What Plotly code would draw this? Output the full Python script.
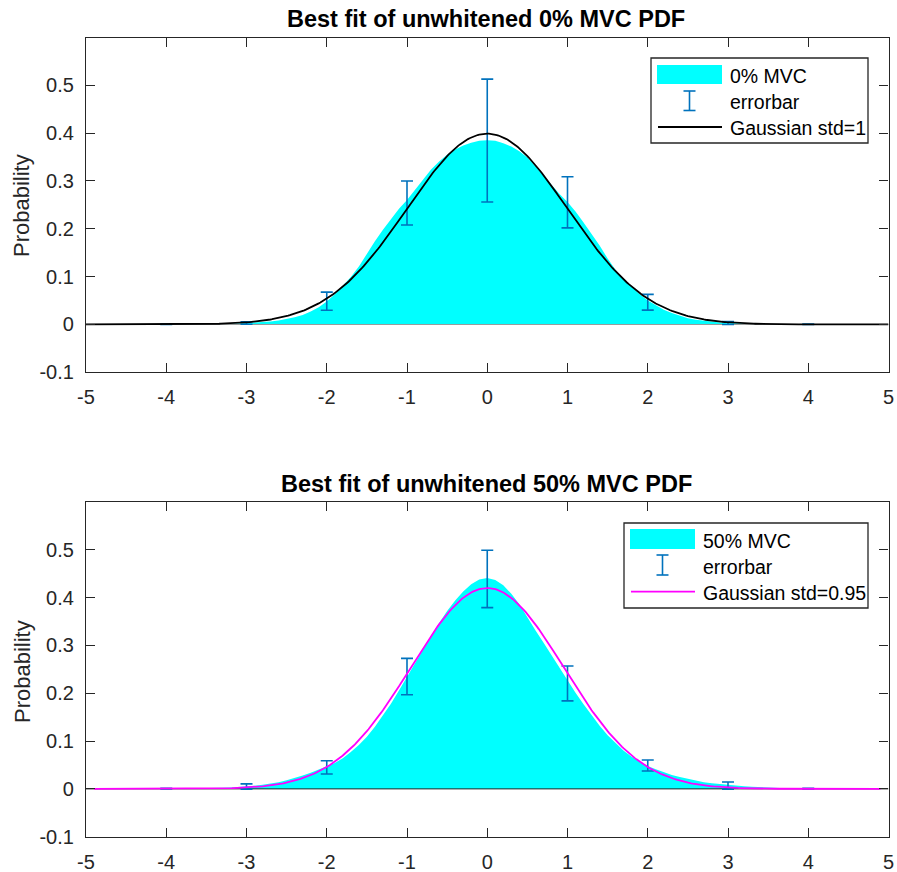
import numpy as np
import plotly.graph_objects as go

W, H = 897, 872

# ---------------------------------------------------------------- data
# histogram heights sampled every 0.1 from -4 to 4
hist_x = np.round(np.arange(-4.0, 4.0001, 0.1), 1)

hist_top = [
    0.0002, 0.0002, 0.0003, 0.0004, 0.0005, 0.0007, 0.0009, 0.0012, 0.0016, 0.0021,
    0.0028, 0.0037, 0.0049, 0.0064, 0.0083, 0.011, 0.015, 0.020, 0.027, 0.036,
    0.048, 0.063, 0.080, 0.099, 0.121, 0.148, 0.174, 0.198, 0.220, 0.242,
    0.260, 0.282, 0.304, 0.324, 0.341, 0.355, 0.366, 0.374, 0.380, 0.384,
    0.385,
    0.384, 0.379, 0.372, 0.362, 0.349, 0.331, 0.311, 0.291, 0.273, 0.256,
    0.236, 0.213, 0.190, 0.165, 0.138, 0.114, 0.094, 0.078, 0.063, 0.050,
    0.040, 0.031, 0.024, 0.018, 0.013, 0.010, 0.0075, 0.0055, 0.0040, 0.0029,
    0.0021, 0.0015, 0.0011, 0.0008, 0.0006, 0.0004, 0.0003, 0.0002, 0.0002, 0.0001,
]

hist_bottom = [
    0.0003, 0.0004, 0.0005, 0.0007, 0.0009, 0.0012, 0.0016, 0.0022, 0.0030, 0.0039,
    0.005, 0.0065, 0.0085, 0.011, 0.014, 0.018, 0.0225, 0.028, 0.0335, 0.040,
    0.046, 0.054, 0.064, 0.077, 0.092, 0.109, 0.130, 0.153, 0.178, 0.206,
    0.235, 0.263, 0.292, 0.320, 0.347, 0.372, 0.394, 0.413, 0.428, 0.438,
    0.441,
    0.437, 0.426, 0.408, 0.386, 0.358, 0.332, 0.306, 0.280, 0.254, 0.226,
    0.201, 0.177, 0.154, 0.132, 0.112, 0.095, 0.080, 0.067, 0.057, 0.048,
    0.041, 0.0345, 0.029, 0.025, 0.021, 0.017, 0.014, 0.012, 0.010, 0.008,
    0.0065, 0.0055, 0.0045, 0.0035, 0.0025, 0.0018, 0.0013, 0.0009, 0.0006, 0.0004,
]

eb_x = [-4, -3, -2, -1, 0, 1, 2, 3, 4]
eb_top_mid = [0.0003, 0.003, 0.0486, 0.254, 0.3845, 0.2555, 0.0465, 0.003, 0.0003]
eb_top_err = [0.0005, 0.0025, 0.019, 0.046, 0.1285, 0.0535, 0.0165, 0.003, 0.0005]
eb_bot_mid = [0.0005, 0.005, 0.045, 0.235, 0.439, 0.2205, 0.049, 0.007, 0.0005]
eb_bot_err = [0.0008, 0.0055, 0.014, 0.038, 0.060, 0.0365, 0.0115, 0.0075, 0.0008]

std_top = 1.0
std_bottom = 0.95

titles = ["Best fit of unwhitened 0% MVC PDF", "Best fit of unwhitened 50% MVC PDF"]
hist_names = ["0% MVC", "50% MVC"]
curve_names = ["Gaussian std=1", "Gaussian std=0.95"]
y_label = "Probability"

x_ticks = [-5, -4, -3, -2, -1, 0, 1, 2, 3, 4, 5]
x_tick_text = ["-5", "-4", "-3", "-2", "-1", "0", "1", "2", "3", "4", "5"]
y_ticks = [-0.1, 0.0, 0.1, 0.2, 0.3, 0.4, 0.5]
y_tick_text = ["-0.1", "0", "0.1", "0.2", "0.3", "0.4", "0.5"]

# ---------------------------------------------------------------- style
CYAN = "#00FFFF"
EB_BLUE = "#0072BD"
AX = "#262626"
FONT = "Arial, Liberation Sans, sans-serif"


def gauss(x, s):
    return np.exp(-0.5 * (x / s) ** 2) / (s * np.sqrt(2 * np.pi))


def px(x):
    return x / W


def py(y):
    return 1 - y / H


fig = go.Figure()

panels = [
    dict(hist=hist_top, mid=eb_top_mid, err=eb_top_err, std=std_top, color="#000000",
         cx=np.linspace(-5, 5, 501), base="#9a9a9a", xa="x", ya="y",
         dom=(37.5, 372.3)),
    dict(hist=hist_bottom, mid=eb_bot_mid, err=eb_bot_err, std=std_bottom, color="#FF00FF",
         cx=np.linspace(-4.9, 4.9, 491), base=AX, xa="x2", ya="y2",
         dom=(502.0, 836.7)),
]

for p in panels:
    fig.add_trace(go.Scatter(
        x=hist_x, y=p["hist"], mode="lines", fill="tozeroy", fillcolor=CYAN,
        line=dict(width=0, color="rgba(0,0,0,0)"), xaxis=p["xa"], yaxis=p["ya"],
        showlegend=False, hoverinfo="skip"))
    fig.add_trace(go.Scatter(
        x=[-5, 5], y=[0, 0], mode="lines", line=dict(color=p["base"], width=1),
        xaxis=p["xa"], yaxis=p["ya"], showlegend=False, hoverinfo="skip"))
    fig.add_trace(go.Scatter(
        x=eb_x, y=p["mid"], mode="markers",
        marker=dict(size=1, color="rgba(0,0,0,0)"),
        error_y=dict(type="data", array=p["err"], visible=True, color=EB_BLUE,
                     thickness=1.6, width=6),
        xaxis=p["xa"], yaxis=p["ya"], showlegend=False))
    fig.add_trace(go.Scatter(
        x=p["cx"], y=gauss(p["cx"], p["std"]), mode="lines",
        line=dict(color=p["color"], width=1.8),
        xaxis=p["xa"], yaxis=p["ya"], showlegend=False))

axis_common = dict(
    showline=True, linecolor=AX, linewidth=1.3, mirror="ticks",
    ticks="inside", ticklen=9, tickwidth=1.2, tickcolor=AX,
    showgrid=False, zeroline=False, automargin=False,
    tickfont=dict(family=FONT, size=20, color=AX),
)

layout = dict(
    width=W, height=H, margin=dict(l=0, r=0, t=0, b=0, autoexpand=False),
    paper_bgcolor="white", plot_bgcolor="white", showlegend=False,
)
for i, p in enumerate(panels):
    sfx = "" if i == 0 else "2"
    layout["xaxis" + sfx] = dict(
        axis_common, domain=[px(86), px(888.5)], range=[-5, 5],
        tickvals=x_ticks, ticktext=x_tick_text, anchor="y" + sfx,
        ticklabelstandoff=7)
    layout["yaxis" + sfx] = dict(
        axis_common, domain=[py(p["dom"][1]), py(p["dom"][0])], range=[-0.1, 0.6],
        tickvals=y_ticks, ticktext=y_tick_text, anchor="x" + sfx,
        ticklabelstandoff=7)
fig.update_layout(**layout)

# titles and axis labels
title_y = [19, 484]
label_y = [206, 672]
for i in range(2):
    fig.add_annotation(text="<b>%s</b>" % titles[i], xref="paper", yref="paper",
                       x=px(486), y=py(title_y[i]), xanchor="center", yanchor="middle",
                       showarrow=False, font=dict(family=FONT, size=23.5, color="#000000"))
    fig.add_annotation(text=y_label, xref="paper", yref="paper", textangle=-90,
                       x=px(22), y=py(label_y[i]), xanchor="center", yanchor="middle",
                       showarrow=False, font=dict(family=FONT, size=22, color=AX))

# legends drawn as boxes with sample glyphs
legends = [
    dict(box=(651, 58, 868, 143), patch=(657, 65, 722, 84), sym_x=689.5,
         text_x=728, rows=(76, 102, 128), eb=(91, 110.5), line=(658, 722, 127),
         color="#000000", names=(hist_names[0], "errorbar", curve_names[0])),
    dict(box=(624, 523, 868, 608), patch=(630, 529, 695, 549), sym_x=662.5,
         text_x=701, rows=(541, 567, 593), eb=(555, 575), line=(631, 695, 591.7),
         color="#FF00FF", names=(hist_names[1], "errorbar", curve_names[1])),
]
shapes = []
for lg in legends:
    x0, y0, x1, y1 = lg["box"]
    shapes.append(dict(type="rect", xref="paper", yref="paper",
                       x0=px(x0), y0=py(y1), x1=px(x1), y1=py(y0),
                       line=dict(color=AX, width=1.3), fillcolor="white", layer="above"))
    a0, b0, a1, b1 = lg["patch"]
    shapes.append(dict(type="rect", xref="paper", yref="paper",
                       x0=px(a0), y0=py(b1), x1=px(a1), y1=py(b0),
                       line=dict(width=0), fillcolor=CYAN, layer="above"))
    e0, e1 = lg["eb"]
    sx = lg["sym_x"]
    shapes.append(dict(type="line", xref="paper", yref="paper",
                       x0=px(sx), x1=px(sx), y0=py(e0), y1=py(e1),
                       line=dict(color=EB_BLUE, width=1.6), layer="above"))
    for ey in (e0, e1):
        shapes.append(dict(type="line", xref="paper", yref="paper",
                           x0=px(sx - 6), x1=px(sx + 6), y0=py(ey), y1=py(ey),
                           line=dict(color=EB_BLUE, width=1.6), layer="above"))
    l0, l1, ly = lg["line"]
    shapes.append(dict(type="line", xref="paper", yref="paper",
                       x0=px(l0), x1=px(l1), y0=py(ly), y1=py(ly),
                       line=dict(color=lg["color"], width=1.8), layer="above"))
    for name, ry in zip(lg["names"], lg["rows"]):
        fig.add_annotation(text=name, xref="paper", yref="paper",
                           x=px(lg["text_x"]), y=py(ry), xanchor="left", yanchor="middle",
                           showarrow=False, font=dict(family=FONT, size=19.5, color="#000000"))
fig.update_layout(shapes=shapes)

fig.write_html("out.html")
